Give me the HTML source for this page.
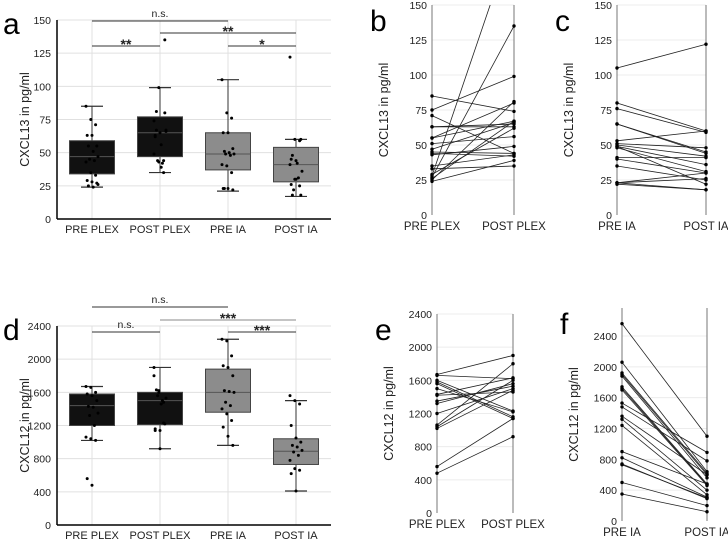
<!DOCTYPE html>
<html><head><meta charset="utf-8"><style>
body{margin:0;background:#fff}
svg{display:block;font-family:"Liberation Sans","DejaVu Sans",sans-serif}
</style></head><body>
<svg id="fig" width="728" height="540" viewBox="0 0 728 540" xmlns="http://www.w3.org/2000/svg"></svg>
<script>
const cats = ["PRE PLEX","POST PLEX","PRE IA","POST IA"];
// Box stats [low whisker, q1, median, q3, high whisker]
const boxA = [[24,34,47,59,85],[35,47,65,77,99],[21,37,49,65,105],[17,28,41,54,60]];
const boxD = [[1020,1200,1440,1580,1670],[920,1210,1500,1600,1900],[960,1360,1600,1880,2240],[410,730,890,1040,1500]];
// paired data
const prePlexB = [85,75,71,63,63,55,55,51,47,45,44,43,35,33,29,28,27,25,24,26];
const postPlexB = [74,99,44,63,65,80,67,56,66,44,42,49,43,35,62,200,135,81,39,67];
const preIaC = [105,80,76,65,65,53,51,50,49,49,48,41,40,35,23,23,22,23];
const postIaC = [122,60,59,45,44,60,48,42,36,22,31,41,30,25,26,30,18,18];
const prePlexE = [1670,1660,1600,1580,1560,1500,1430,1420,1350,1320,1200,1060,1040,1020,560,480];
const postPlexE = [1900,1620,1230,1160,1140,1220,1630,1460,1530,1560,1500,1800,1600,1480,1140,920];
const preIaF = [2560,2060,1920,1900,1880,1740,1720,1700,1530,1480,1360,1320,1240,900,820,740,730,500,350];
const postIaF = [1100,640,620,600,560,480,470,460,890,780,600,400,340,480,310,290,300,200,120];
// panel d dots for IA groups
const preIaD = [2240,2220,2040,1920,1900,1800,1620,1610,1600,1480,1440,1400,1340,1260,1180,1070,960];
const postIaD = [1560,1500,1460,1200,1050,1000,960,940,900,880,840,780,680,660,620,410];
const ticksA = [0,25,50,75,100,125,150];
const ticksD = [0,400,800,1200,1600,2000,2400];

const NS="http://www.w3.org/2000/svg";
const svg=document.getElementById('fig');
function el(tag,attrs,parent,text){const e=document.createElementNS(NS,tag);for(const k in attrs)e.setAttribute(k,attrs[k]);if(text!==undefined)e.textContent=text;(parent||svg).appendChild(e);return e;}
function grp(name){const g=el('g',{});return g;}
function jit(i){return ((i*37)%11-5)*1.2;}

function boxPanel(name,letter,stats,pts,ticks,ymax,y0,ytop,ylabel,sigs){
  const g=grp(name);
  const X0=57,X1=331,cx=[92,160,228,296];
  const ys=v=>y0-(v/ymax)*(y0-ytop);
  const lt=el('text',{x:3,y:ytop+14,'font-size':30},g,letter);
  
  ticks.forEach(t=>{
    if(t>0){const gl=el('line',{x1:X0,x2:X1,y1:ys(t),y2:ys(t),stroke:'#e0e0e0','stroke-width':1},g);}
    const tl=el('text',{x:X0-6,y:ys(t)+4,'font-size':10.5,'text-anchor':'end',fill:'#222'},g,t);
    
  });
  cx.forEach((x,i)=>{
    const vl=el('line',{x1:x,x2:x,y1:ytop,y2:y0,stroke:'#e0e0e0'},g);
    const cl=el('text',{x:x,y:y0+14,'font-size':11,'text-anchor':'middle',fill:'#222'},g,cats[i]);
    
  });
  stats.forEach((s,i)=>{
    const x=cx[i],fill=i<2?'#111':'#8c8c8c',w=45;
    const wl=el('line',{x1:x,x2:x,y1:ys(s[0]),y2:ys(s[4]),stroke:'#333'},g);
    [s[0],s[4]].forEach(v=>{const c=el('line',{x1:x-11,x2:x+11,y1:ys(v),y2:ys(v),stroke:'#333','stroke-width':1.2},g);});
    const b=el('rect',{x:x-w/2,y:ys(s[3]),width:w,height:ys(s[1])-ys(s[3]),fill:fill,stroke:'#444','stroke-width':1},g);
    
    const m=el('line',{x1:x-w/2,x2:x+w/2,y1:ys(s[2]),y2:ys(s[2]),stroke:'#555'},g);
  });
  pts.forEach((arr,i)=>arr.forEach((v,j)=>{if(v>ymax)return;
    const d=el('circle',{cx:cx[i]+jit(j),cy:ys(v),r:1.5,fill:'#000'},g);}));
  el('line',{x1:X0,x2:X0,y1:ytop,y2:y0,stroke:'#000','stroke-width':1.5},g);
  el('line',{x1:X0,x2:X1,y1:y0,y2:y0,stroke:'#000','stroke-width':1.5},g);
  const yl=el('text',{transform:`translate(29,${(y0+ytop)/2}) rotate(-90)`,'font-size':12.5,'text-anchor':'middle',fill:'#222'},g,ylabel);
  
  sigs.forEach(s=>{
    const x1=cx[s[0]],x2=cx[s[1]];
    const l=el('line',{x1:x1,x2:x2,y1:s[2],y2:s[2],stroke:s[4]||'#333','stroke-width':1},g);
    const star=s[3]!=='n.s.';
    const t=el('text',{x:(x1+x2)/2,y:s[2]-(star?-3:4),'font-size':star?14:10.5,'text-anchor':'middle',fill:'#222','font-weight':star?'bold':'normal'},g,s[3]);
    
  });
}

function pairPanel(name,letter,lx,rx,pre,post,ticks,ymax,y0,ytop,axTop,ylabel,labs){
  const g=grp(name);
  const ys=v=>y0-(v/ymax)*(y0-ytop);
  const lt=el('text',{x:lx-62,y:axTop+26,'font-size':30},g,letter);
  
  ticks.forEach(t=>{
    if(t>0){const gl=el('line',{x1:lx,x2:rx,y1:ys(t),y2:ys(t),stroke:'#ececec'},g);}
    const tl=el('text',{x:lx-5,y:ys(t)+4,'font-size':10.5,'text-anchor':'end',fill:'#222'},g,t);
    
  });
  [lx,rx].forEach((x,i)=>{
    const a=el('line',{x1:x,x2:x,y1:axTop,y2:y0,stroke:'#777','stroke-width':1},g);
    const cl=el('text',{x:x,y:y0+15,'font-size':11.5,'text-anchor':'middle',fill:'#222'},g,labs[i]);
    
  });
  const cp=el('clipPath',{id:name+'-clip'},g);el('rect',{x:lx-3,y:axTop,width:rx-lx+6,height:y0-axTop+3},cp);
  const lg=el('g',{'clip-path':`url(#${name}-clip)`},g);
  pre.forEach((v,i)=>{
    const l=el('line',{x1:lx,x2:rx,y1:ys(v),y2:ys(post[i]),stroke:'#222','stroke-width':0.8},lg);
    
    const a=el('circle',{cx:lx,cy:ys(v),r:1.7,fill:'#000'},lg);
    const b=el('circle',{cx:rx,cy:ys(post[i]),r:1.7,fill:'#000'},lg);
  });
  const yl=el('text',{transform:`translate(${lx-44},${(y0+axTop)/2}) rotate(-90)`,'font-size':12.5,'text-anchor':'middle',fill:'#222'},g,ylabel);
  
}

boxPanel('panel-a','a',boxA,[prePlexB,postPlexB,preIaC,postIaC],ticksA,150,219,20,'CXCL13 in pg/ml',
  [[0,2,21,'n.s.'],[1,3,33,'**'],[0,1,46,'**'],[2,3,46,'*']]);
boxPanel('panel-d','d',boxD,[prePlexE,postPlexE,preIaD,postIaD],ticksD,2400,525,326,'CXCL12 in pg/ml',
  [[0,2,307,'n.s.'],[1,3,320,'***','#888'],[0,1,332,'n.s.'],[2,3,332,'***']]);
pairPanel('panel-b','b',432,514,prePlexB,postPlexB,ticksA,150,215,5,5,'CXCL13 in pg/ml',['PRE PLEX','POST PLEX']);
pairPanel('panel-c','c',617,706,preIaC,postIaC,ticksA,150,215,5,5,'CXCL13 in pg/ml',['PRE IA','POST IA']);
pairPanel('panel-e','e',437,513,prePlexE,postPlexE,ticksD,2400,513,314,314,'CXCL12 in pg/ml',['PRE PLEX','POST PLEX']);
pairPanel('panel-f','f',622,707,preIaF,postIaF,ticksD,2400,521,336,308,'CXCL12 in pg/ml',['PRE IA','POST IA']);
</script>
</body></html>
